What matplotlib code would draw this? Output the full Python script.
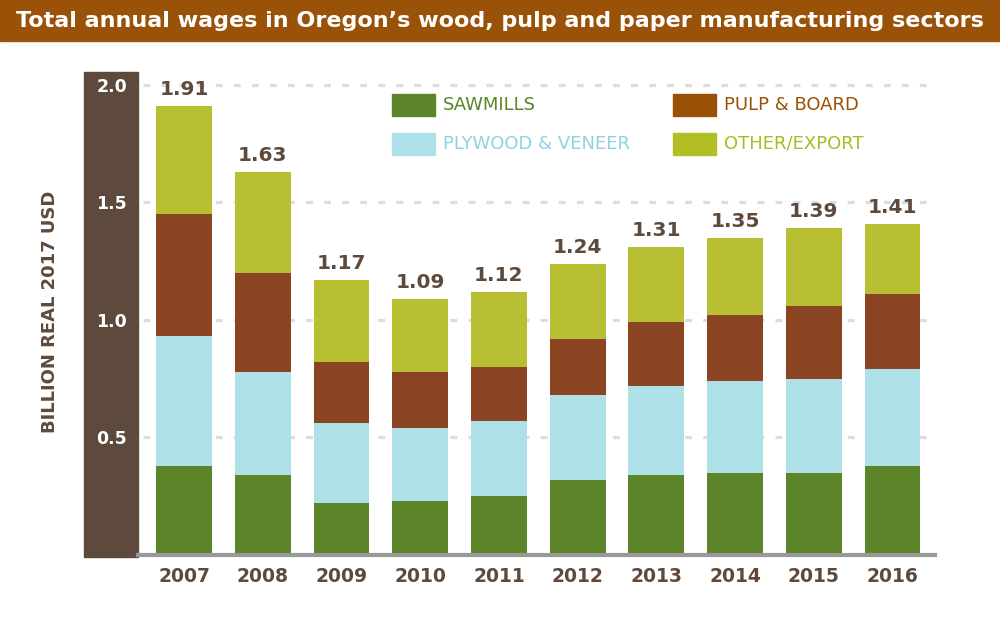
import matplotlib
matplotlib.use('Agg')
import matplotlib.pyplot as plt
from matplotlib.patches import Rectangle
import numpy as np

# Data (billion real 2017 USD)
years = ['2007', '2008', '2009', '2010', '2011', '2012', '2013', '2014', '2015', '2016']
sawmills = [0.38, 0.34, 0.22, 0.23, 0.25, 0.32, 0.34, 0.35, 0.35, 0.38]
plywood = [0.55, 0.44, 0.34, 0.31, 0.32, 0.36, 0.38, 0.39, 0.40, 0.41]
pulp = [0.52, 0.42, 0.26, 0.24, 0.23, 0.24, 0.27, 0.28, 0.31, 0.32]
totals = [1.91, 1.63, 1.17, 1.09, 1.12, 1.24, 1.31, 1.35, 1.39, 1.41]
other = [round(t - s - p - q, 2) for t, s, p, q in zip(totals, sawmills, plywood, pulp)]

yticks = [0.5, 1.0, 1.5, 2.0]
ytick_labels = ['0.5', '1.0', '1.5', '2.0']

title = 'Total annual wages in Oregon\u2019s wood, pulp and paper manufacturing sectors'
ylabel = 'BILLION REAL 2017 USD'

# Colours
c_saw = '#5b8528'
c_ply = '#aee0e8'
c_pulp = '#8a4421'
c_other = '#b8bf33'
c_dark = '#5e4a3c'
c_title = '#9a5208'

plt.rcParams['font.family'] = ['DejaVu Sans']
plt.rcParams['lines.scale_dashes'] = False

W, H = 1000, 622
fig = plt.figure(figsize=(W / 100, H / 100), dpi=100)

# axes placed in pixel terms
ax_l, ax_r, ax_t, ax_b = 138, 935, 72, 555
ax = fig.add_axes([ax_l / W, 1 - ax_b / H, (ax_r - ax_l) / W, (ax_b - ax_t) / H])
ax.set_xlim(-0.585, 9.54)
ax.set_ylim(0, 2.055)
ax.patch.set_alpha(0)

x = np.arange(len(years))
bw = 0.71
bottom = np.zeros(len(years))
for vals, col in [(sawmills, c_saw), (plywood, c_ply), (pulp, c_pulp), (other, c_other)]:
    ax.bar(x, vals, bw, bottom=bottom, color=col, zorder=3, linewidth=0)
    bottom += np.array(vals)

for xi, t in zip(x, totals):
    ax.annotate(f'{t:.2f}', (xi, t), xytext=(0, 5), textcoords='offset points',
                ha='center', va='bottom', fontsize=14.5, fontweight='bold', color=c_dark)

# dashed gridlines
for yv in yticks:
    ax.axhline(yv, xmin=5 / (ax_r - ax_l), xmax=1, color='#dddddd', lw=2.3,
               dashes=(5, 8), zorder=1)

ax.axhline(0, color='#999999', lw=3, zorder=4, clip_on=False)

for s in ax.spines.values():
    s.set_visible(False)

ax.set_xticks(x)
ax.set_xticklabels(years, fontsize=13.5, fontweight='bold', color=c_dark)
ax.set_yticks(yticks)
ax.set_yticklabels(ytick_labels, fontsize=12.5, fontweight='bold', color='white')
ax.tick_params(axis='both', length=0)
ax.tick_params(axis='x', pad=9)
ax.tick_params(axis='y', pad=8)

# dark panel behind y tick labels
pw = 54 / (ax_r - ax_l)
ax.add_patch(Rectangle((-pw, -2 / (ax_b - ax_t)), pw, 1 + 2 / (ax_b - ax_t),
                       transform=ax.transAxes, color=c_dark, clip_on=False, zorder=0))

fig.text(50 / W, 1 - 312 / H, ylabel, rotation=90, ha='center', va='center',
         fontsize=13, fontweight='bold', color=c_dark)

# title bar
fig.patches.append(Rectangle((0, 1 - 41 / H), 1, 41 / H, transform=fig.transFigure,
                             color=c_title, zorder=0))
fig.text(0.5, 1 - 21 / H, title, ha='center', va='center', fontsize=16,
         color='white', fontweight='bold')

# legend
legend_items = [
    ('SAWMILLS', '#5b8528', '#5b8528', 392, 94),
    ('PLYWOOD & VENEER', '#aee0e8', '#8fd3e0', 392, 133),
    ('PULP & BOARD', '#9a5006', '#9a5006', 673, 94),
    ('OTHER/EXPORT', '#b2bf22', '#aabb22', 673, 133),
]
for label, sc, tc, lx, ly in legend_items:
    fig.patches.append(Rectangle((lx / W, 1 - (ly + 22) / H), 43 / W, 22 / H,
                                 transform=fig.transFigure, color=sc, zorder=2))
    fig.text((lx + 51) / W, 1 - (ly + 11) / H, label, ha='left', va='center',
             fontsize=13, color=tc)

fig.savefig('out.png', dpi=100)
